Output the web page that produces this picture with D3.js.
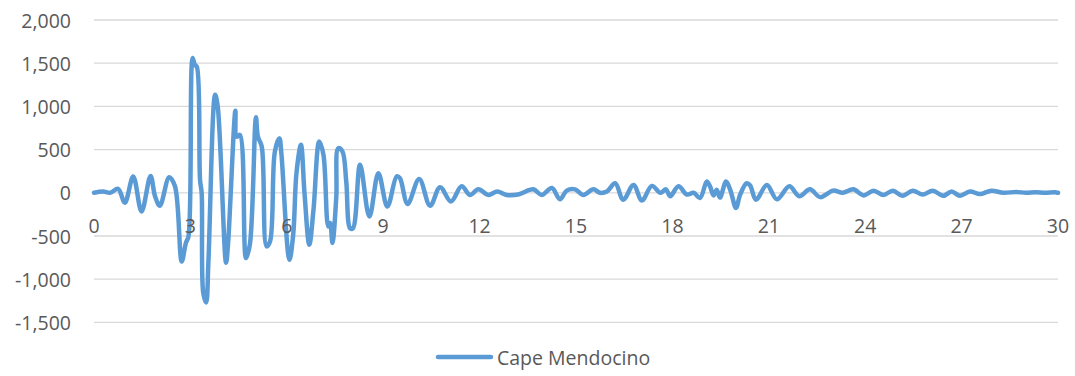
<!DOCTYPE html>
<html><head><meta charset="utf-8">
<script src="https://cdn.jsdelivr.net/npm/d3@7"></script>
<style>body{margin:0;background:#fff}svg{display:block}text{font-family:"Open Sans",sans-serif;fill:#595959}</style>
</head><body><svg id="c" width="1075" height="376"></svg>
<script>
const seriesName = "Cape Mendocino";
const times = [0,0.28,0.5,0.75,0.96,1.22,1.48,1.76,1.9,2.05,2.34,2.52,2.73,2.86,2.94,3.07,3.14,3.2,3.3,3.35,3.4,3.49,3.56,3.77,3.85,4.11,4.17,4.4,4.44,4.54,4.73,4.85,5.04,5.1,5.22,5.37,5.48,5.63,5.77,5.83,6.08,6.2,6.3,6.44,6.55,6.7,6.83,7.01,7.14,7.29,7.35,7.42,7.54,7.6,7.73,7.85,7.97,8.06,8.28,8.57,8.85,9.13,9.42,9.52,9.76,10.12,10.46,10.77,11.11,11.44,11.7,11.96,12.27,12.55,12.84,13.2,13.67,13.93,14.25,14.5,14.71,14.97,15.23,15.54,15.75,15.96,16.22,16.47,16.79,17.05,17.36,17.63,17.8,17.93,18.19,18.45,18.66,18.86,19.07,19.17,19.28,19.38,19.48,19.67,19.8,19.98,20.1,20.31,20.42,20.6,20.94,21.25,21.64,21.95,22.28,22.6,23.0,23.3,23.63,23.95,24.26,24.57,24.86,25.16,25.48,25.79,26.1,26.43,26.69,26.95,27.26,27.57,27.93,28.3,28.7,29.0,29.3,29.6,29.9,30];
const values = [0,15,0,45,-115,190,-215,195,-40,-150,180,75,-795,-580,-505,1560,1480,1460,150,0,-1160,-1270,-800,1135,1000,-810,-600,950,650,670,-755,-600,875,650,535,-620,-560,480,630,460,-775,-480,225,555,0,-600,-200,595,440,-390,-350,-580,-50,515,480,130,-410,-410,325,-275,225,-160,190,170,-130,160,-150,65,-100,75,-25,40,-25,15,-25,-20,40,-25,55,-75,25,40,-25,40,0,15,110,-80,90,-90,80,0,40,-40,75,-20,0,-60,130,75,-30,35,-55,130,35,-175,-30,110,85,-80,90,-75,75,-40,40,-50,25,0,40,-30,25,-25,25,-35,25,-20,25,-35,15,-35,15,-15,25,0,10,0,5,0,5,0];
const yTicks = [-1500,-1000,-500,0,500,1000,1500,2000];
const xTicks = [0,3,6,9,12,15,18,21,24,27,30];
const data = times.map((t,i)=>({t, v: values[i]}));

const svg = d3.select("#c");
const x = d3.scaleLinear().domain([0,30]).range([94,1058]);
const y = d3.scaleLinear().domain([-1500,2000]).range([322.4,20]);
const fs = 19.5;
const fmt = d => d3.format(",")(d).replace("\u2212","-");

svg.append("g").selectAll("line").data(yTicks).join("line")
  .attr("x1",x(0)).attr("x2",x(30)).attr("y1",d=>y(d)).attr("y2",d=>y(d))
  .attr("stroke","#d9d9d9").attr("stroke-width",1.3);

svg.append("g").selectAll("text").data(yTicks).join("text")
  .attr("x",71).attr("y",d=>y(d)).attr("text-anchor","end").attr("dominant-baseline","central")
  .attr("font-size",fs).text(fmt);

svg.append("path").datum(data)
  .attr("fill","none").attr("stroke","#5b9bd5").attr("stroke-width",4.5)
  .attr("stroke-linejoin","round").attr("stroke-linecap","round")
  .attr("d", d3.line().x(d=>x(d.t)).y(d=>y(d.v)).curve(d3.curveCatmullRom.alpha(0.5)));

svg.append("g").selectAll("text").data(xTicks).join("text")
  .attr("x",d=>x(d)).attr("y",y(0)+33).attr("text-anchor","middle").attr("dominant-baseline","central")
  .attr("font-size",fs).text(d=>d);

const lg = svg.append("g");
lg.append("line").attr("x1",438).attr("x2",491).attr("y1",357).attr("y2",357)
  .attr("stroke","#5b9bd5").attr("stroke-width",4.5).attr("stroke-linecap","round");
lg.append("text").attr("x",497).attr("y",357).attr("dominant-baseline","central")
  .attr("font-size",fs).text(seriesName);
</script></body></html>
